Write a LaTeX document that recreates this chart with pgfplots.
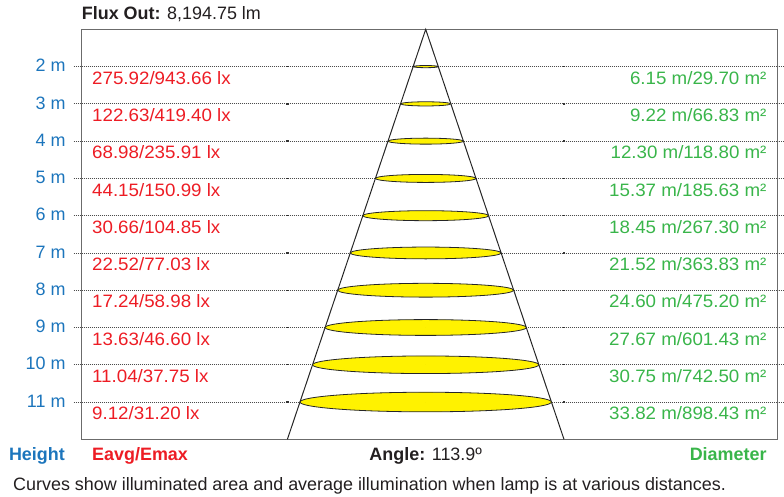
\documentclass[border=0pt]{standalone}
\usepackage{fontspec}
\setmainfont{Liberation Sans}
\newfontfamily\widefont[FakeStretch=1.045]{Liberation Sans}
\usepackage{pgfplots}
\pgfplotsset{compat=1.18}
\usepackage{pgfplotstable}
\definecolor{hblue}{RGB}{28,117,188}
\definecolor{ered}{RGB}{237,28,36}
\definecolor{dgreen}{RGB}{57,181,74}
\definecolor{ellyel}{RGB}{255,242,0}
\definecolor{txt}{RGB}{35,31,32}
\newcommand\fs{\fontsize{18}{21}\selectfont}

% h = height (m); a,b = drawn half axes of the light ellipse (px)
\pgfplotstableread[col sep=comma]{
h,a,b,lux,diam
2,12.6,1.1,275.92/943.66 lx,6.15 m/29.70 m²
3,25.1,2.1,122.63/419.40 lx,9.22 m/66.83 m²
4,37.7,3.0,68.98/235.91 lx,12.30 m/118.80 m²
5,50.3,4.0,44.15/150.99 lx,15.37 m/185.63 m²
6,62.9,5.0,30.66/104.85 lx,18.45 m/267.30 m²
7,75.4,5.9,22.52/77.03 lx,21.52 m/363.83 m²
8,88.0,6.9,17.24/58.98 lx,24.60 m/475.20 m²
9,100.6,7.9,13.63/46.60 lx,27.67 m/601.43 m²
10,113.1,8.8,11.04/37.75 lx,30.75 m/742.50 m²
11,125.7,9.8,9.12/31.20 lx,33.82 m/898.43 m²
}\levels

\begin{document}
\begin{tikzpicture}
\path[use as bounding box] (0,0) rectangle (784bp,497bp);
\begin{axis}[
  at={(81.7bp,57.7bp)}, anchor=south west,
  x=1bp, y=37.27bp, y dir=reverse,
  xmin=-344, xmax=352, ymin=1, ymax=12,
  enlargelimits=false, clip=false,
  axis line style={black!58, line width=1.4bp},
  xtick=\empty,
  ytick={2,...,11},
  yticklabels={2 m,3 m,4 m,5 m,6 m,7 m,8 m,9 m,10 m,11 m},
  tick align=outside, major tick length=8bp,
  ytick style={black!70, line width=0.9bp, dash pattern=on 1bp off 1bp},
  ymajorgrids,
  major grid style={black!70, line width=0.9bp, dash pattern=on 1bp off 1bp},
  yticklabel style={font=\fs, text=hblue, anchor=east, inner sep=0pt, xshift=-8bp, yshift=1bp},
]
% small dark marks on the guide lines
\addplot[only marks, mark=-, mark size=1.4bp, black!80, mark options={line width=1.3bp}]
  coordinates {(-138.3,2)(-138.3,3)(-138.3,4)(-138.3,5)(-138.3,6)(-138.3,7)(-138.3,8)(-138.3,9)(-138.3,10)(-138.3,11)
               (138.3,2)(138.3,3)(138.3,4)(138.3,5)(138.3,6)(138.3,7)(138.3,8)(138.3,9)(138.3,10)(138.3,11)};
% light ellipses
\addplot[scatter, only marks, mark=*, mark size=0pt, draw=none, fill=none,
  visualization depends on={\thisrow{a} \as \ra},
  visualization depends on={\thisrow{b} \as \rb},
  scatter/@pre marker code/.code={%
    \filldraw[fill=ellyel, draw=black!85, line width=0.8bp] (0pt,0pt) ellipse [x radius=\ra bp, y radius=\rb bp];},
  scatter/@post marker code/.code={},
] table[x expr=0, y=h] {\levels};
% cone
\addplot[black!85, line width=1bp] coordinates {(-138.3,12) (0,1) (138.3,12)};
% illuminance labels
\addplot[draw=none, mark=none, point meta=explicit symbolic, nodes near coords,
  nodes near coords style={anchor=base west, inner sep=0pt, yshift=-17.6bp, font=\widefont\fs, text=ered}]
  table[x expr=-333.7, y=h, meta=lux] {\levels};
% diameter labels
\addplot[draw=none, mark=none, point meta=explicit symbolic, nodes near coords,
  nodes near coords style={anchor=base east, inner sep=0pt, yshift=-17.6bp, font=\widefont\fs, text=dgreen}]
  table[x expr=341, y=h, meta=diam] {\levels};
% texts
\node[anchor=base west, inner sep=0pt, font=\fs, text=txt] at ([yshift=10bp]axis cs:-344,1) {\textbf{Flux Out:} 8,194.75 lm};
\node[anchor=base east, inner sep=0pt, font=\fs, text=hblue] at ([yshift=-20.7bp]axis cs:-360.7,12) {\textbf{Height}};
\node[anchor=base west, inner sep=0pt, font=\fs, text=ered] at ([yshift=-20.7bp]axis cs:-333.7,12) {\textbf{Eavg/Emax}};
\node[anchor=base, inner sep=0pt, font=\fs, text=txt] at ([yshift=-20.7bp]axis cs:0,12) {\textbf{Angle:} 113.9º};
\node[anchor=base east, inner sep=0pt, font=\fs, text=dgreen] at ([yshift=-20.7bp]axis cs:341,12) {\textbf{Diameter}};
\node[anchor=base west, inner sep=0pt, font=\fs, text=txt] at ([yshift=-51.5bp]axis cs:-412.7,12) {Curves show illuminated area and average illumination when lamp is at various distances.};
\end{axis}
\end{tikzpicture}
\end{document}
